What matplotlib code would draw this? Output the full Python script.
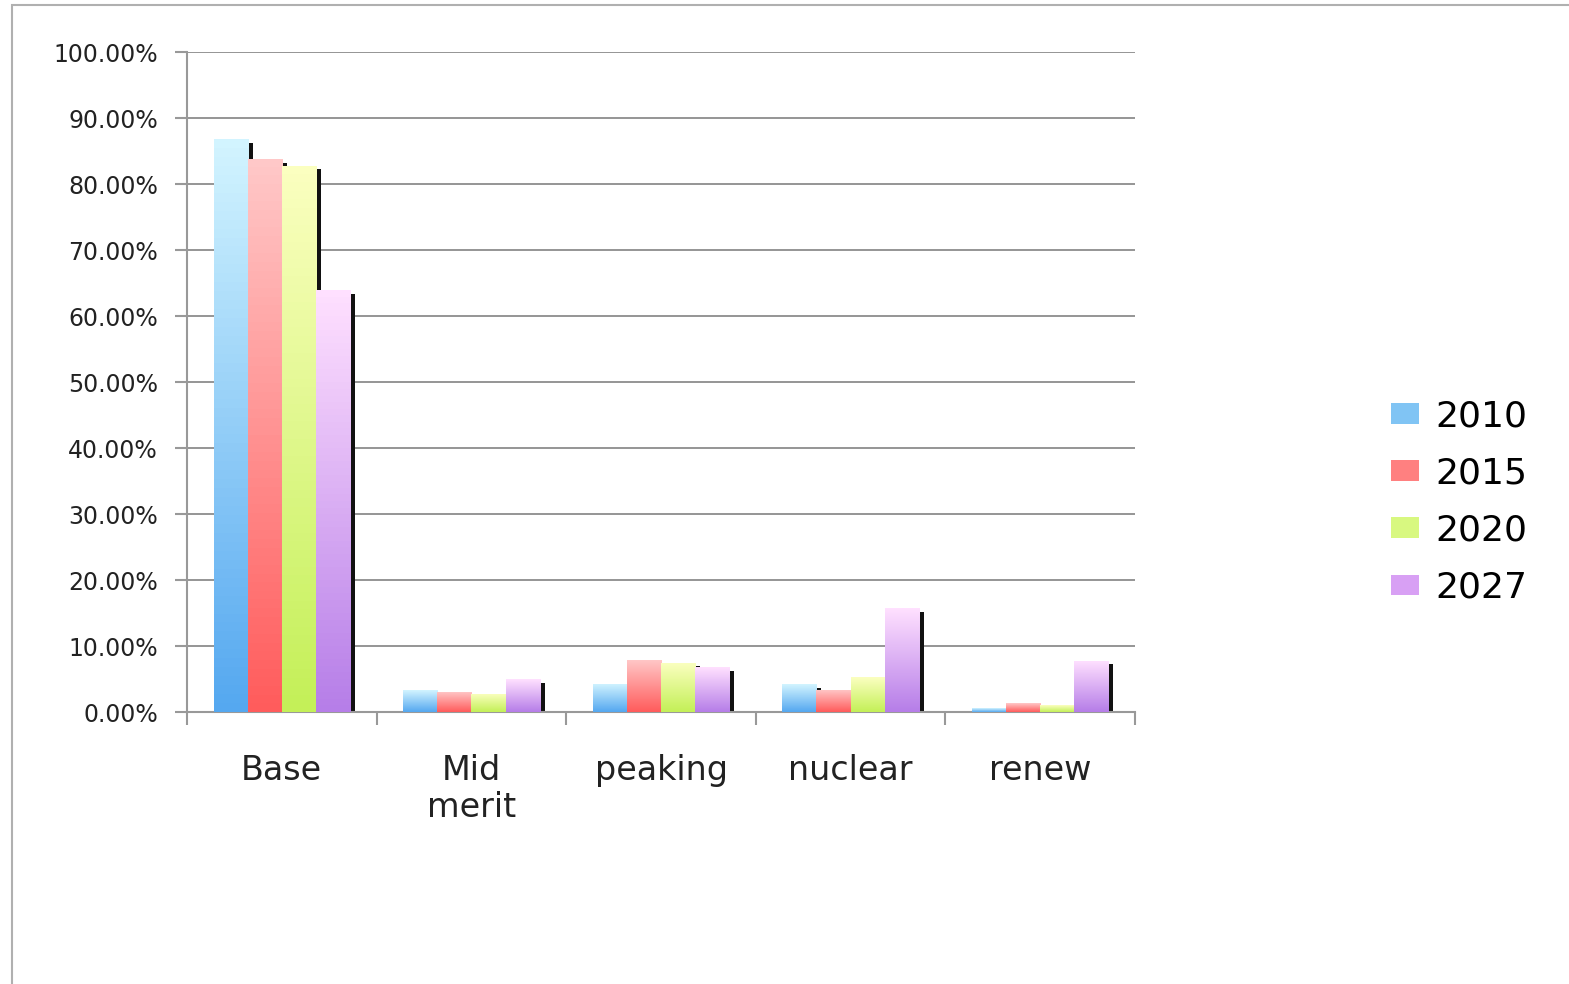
import numpy as np
import matplotlib
matplotlib.use("Agg")
from matplotlib import pyplot as plt
from matplotlib.colors import LinearSegmentedColormap
from matplotlib.patches import Patch, Rectangle

categories = ["Base", "Mid\nmerit", "peaking", "nuclear", "renew"]
years = ["2010", "2015", "2020", "2027"]
share_2010 = [86.8, 3.3, 4.3, 4.2, 0.55]
share_2015 = [83.8, 3.1, 7.9, 3.4, 1.3]
share_2020 = [82.8, 2.8, 7.5, 5.3, 1.05]
share_2027 = [63.9, 4.95, 6.8, 15.7, 7.8]
series = [share_2010, share_2015, share_2020, share_2027]

# (top colour, bottom colour) for each year's gradient
grad = [("#d2f4ff", "#55a8f0"), ("#ffc8c8", "#ff5c5c"),
        ("#fbffc0", "#c4f058"), ("#ffe0ff", "#b67ee8")]
legend_cols = ["#80c4f4", "#ff8080", "#d8f880", "#d8a0f4"]

fig = plt.figure(figsize=(15.69, 9.84), dpi=100)
fig.patches.append(Rectangle((12 / 1569, -0.1), 1.2, 1.1 - 5 / 984,
                             transform=fig.transFigure, fill=False,
                             edgecolor="#b0b0b0", linewidth=1.5))
ax = fig.add_axes([187 / 1569, 1 - 712 / 984, (1135 - 187) / 1569, (712 - 52) / 984])

x = np.arange(len(categories))
width = 0.18
for i, vals in enumerate(series):
    pos = x + (i - 1.5) * width
    # dark shadow behind each bar
    ax.bar(pos + 0.026, np.array(vals) - 0.6, width, color="#111111", zorder=2)
    bars = ax.bar(pos, vals, width, color="none", zorder=3)
    cmap = LinearSegmentedColormap.from_list("g%d" % i, [grad[i][1], grad[i][0]])
    for b in bars:
        x0, h = b.get_x(), b.get_height()
        img = ax.imshow(np.linspace(0, 1, 64).reshape(-1, 1), cmap=cmap,
                        extent=[x0, x0 + width, 0, h], origin="lower",
                        aspect="auto", zorder=3)
        img.set_clip_path(b)

ax.set_xlim(-0.5, 4.5)
ax.set_ylim(0, 100)
ax.set_yticks(np.arange(0, 101, 10))
ax.set_yticklabels(["%.2f%%" % v for v in np.arange(0, 101, 10)], fontsize=17, color="#222222")
ax.yaxis.grid(True, color="#8c8c8c", linewidth=1.3, zorder=1)
ax.set_axisbelow(True)

ax.set_xticks(np.arange(-0.5, 5, 1))
ax.set_xticklabels([])
ax.set_xticks(x, minor=True)
ax.set_xticklabels(categories, minor=True, fontsize=24, color="#222222", linespacing=1.15)
ax.tick_params(axis="x", which="minor", length=0, pad=30)
ax.tick_params(axis="x", which="major", length=9, color="#999999", width=1.5)
ax.tick_params(axis="y", length=9, color="#999999", width=1.5, pad=12)

for s in ["top", "right"]:
    ax.spines[s].set_visible(False)
for s in ["left", "bottom"]:
    ax.spines[s].set_color("#999999")
    ax.spines[s].set_linewidth(1.5)

handles = [Patch(facecolor=c, edgecolor="none") for c in legend_cols]
fig.legend(handles, years, loc="center left", bbox_to_anchor=(1358 / 1569, 1 - 502 / 984),
           frameon=False, fontsize=26, handlelength=0.8, handleheight=0.5,
           handletextpad=0.45, labelspacing=0.64)

fig.savefig("out.png", dpi=100)
